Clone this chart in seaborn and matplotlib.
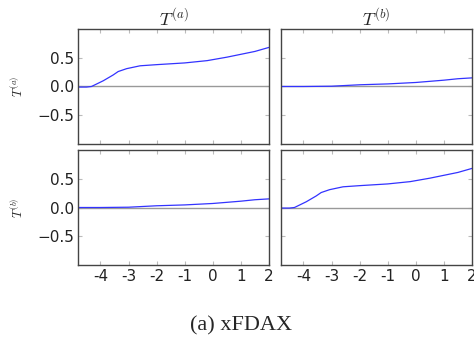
import matplotlib
matplotlib.use("Agg")
import matplotlib.pyplot as plt
import seaborn as sns
import pandas as pd
import numpy as np

# curva que sube (T(a) vs T(a), T(b) vs T(b))
x_sube = [-4.8, -4.5, -4.32, -3.9, -3.55, -3.37, -3.07, -2.59, -2.0, -1.0, -0.2, 0.5, 1.0, 1.5, 2.0]
y_sube = [-0.01, -0.01, 0.0, 0.1, 0.2, 0.26, 0.31, 0.36, 0.38, 0.41, 0.45, 0.51, 0.56, 0.61, 0.68]
# curva casi plana (cruzados)
x_plana = [-4.8, -4.0, -3.0, -2.0, -1.0, 0.0, 0.5, 1.0, 1.5, 2.0]
y_plana = [0.0, 0.0, 0.005, 0.03, 0.045, 0.07, 0.09, 0.11, 0.135, 0.15]

titulos = ["$T^{(a)}$", "$T^{(b)}$"]
xticks = [-4, -3, -2, -1, 0, 1, 2]
xtick_labels = ["-4", "-3", "-2", "-1", "0", "1", "2"]
yticks = [-0.5, 0.0, 0.5]
ytick_labels = ["\u22120.5", "0.0", "0.5"]

df_sube = pd.DataFrame({"x": x_sube, "y": y_sube})
df_plana = pd.DataFrame({"x": x_plana, "y": y_plana})

sns.set_style("white")
plt.rcParams["font.family"] = ["DejaVu Sans"]
plt.rcParams["mathtext.fontset"] = "cm"

fig = plt.figure(figsize=(4.74, 3.47), dpi=100)
W, H = 474, 347
cajas = {
    (0, 0): (78, 29, 269, 144),
    (0, 1): (281, 29, 472, 144),
    (1, 0): (78, 150, 269, 265),
    (1, 1): (281, 150, 472, 265),
}

for (fila, col), (x0, y0, x1, y1) in cajas.items():
    ax = fig.add_axes([x0 / W, 1 - y1 / H, (x1 - x0) / W, (y1 - y0) / H])
    datos = df_sube if fila == col else df_plana
    ax.axhline(0, color="#999999", lw=1, zorder=1)
    sns.lineplot(data=datos, x="x", y="y", ax=ax, color="#3333ff", lw=0.9, sort=False)
    ax.set_xlim(-4.8, 2.0)
    ax.set_ylim(-1.0, 1.0)
    ax.set_xticks(xticks)
    ax.set_yticks(yticks)
    ax.set_xlabel("")
    ax.set_ylabel("")
    if fila == 1:
        ax.set_xticklabels(xtick_labels, fontsize=11, color="#222222")
    else:
        ax.set_xticklabels([])
    if col == 0:
        ax.set_yticklabels(ytick_labels, fontsize=11, color="#222222")
        ax.set_ylabel(titulos[fila], fontsize=9, labelpad=8)
    else:
        ax.set_yticklabels([])
    if fila == 0:
        ax.set_title(titulos[col], fontsize=13, pad=2)
    ax.tick_params(direction="in", length=3, color="#bbbbbb", width=0.8,
                   top=True, right=True, bottom=True, left=True, pad=3)
    for s in ax.spines.values():
        s.set_color("#444444")
        s.set_linewidth(1.0)
        s.set_visible(True)

fig.text(0.508, 1 - 326 / H, "(a) xFDAX", ha="center", va="center",
         fontsize=16, family=["Liberation Serif", "DejaVu Serif"])

fig.savefig("out.png", dpi=100)
